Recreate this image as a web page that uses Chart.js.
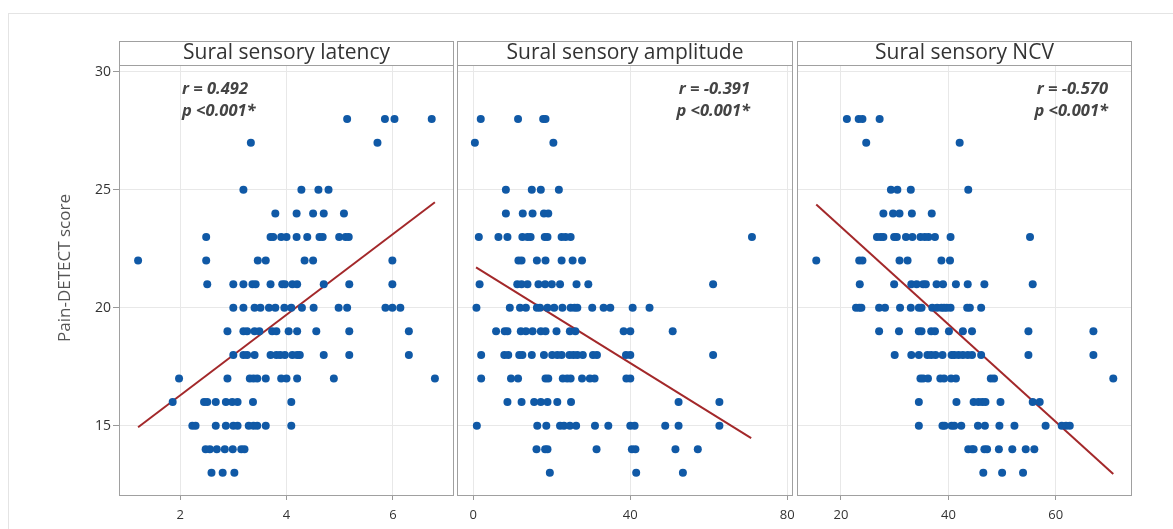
<!DOCTYPE html>
<html>
<head>
<meta charset="utf-8">
<script src="https://cdn.jsdelivr.net/npm/chart.js@4.4.1/dist/chart.umd.min.js"></script>
<style>
  body { margin: 0; background: #fff; width: 1173px; height: 529px; overflow: hidden; position: relative; }
  #outer { position: absolute; left: 8px; top: 13px; width: 1200px; height: 600px; border: 1px solid #e4e4e4; }
  canvas { position: absolute; top: 41px; }
  #c1 { left: 0px; }
  #c2 { left: 456px; }
  #c3 { left: 796px; }
</style>
</head>
<body>
<div id="outer"></div>
<canvas id="c1" width="454" height="488"></canvas>
<canvas id="c2" width="338" height="488"></canvas>
<canvas id="c3" width="337" height="488"></canvas>
<script>
// Pain-DETECT score of each row of points (top to bottom)
const scores = [28, 27, 25, 24, 23, 22, 21, 20, 19, 18, 17, 16, 15, 14, 13];

// x values per score row, same order as scores
const latency = [
  [5.14, 5.85, 6.03, 6.73],
  [3.33, 5.71],
  [3.19, 4.28, 4.6, 4.79],
  [3.79, 4.19, 4.5, 4.7, 5.08],
  [2.49, 3.7, 3.75, 3.9, 4.0, 4.19, 4.39, 4.62, 4.68, 4.99, 5.11, 5.17],
  [1.21, 2.49, 3.46, 3.61, 4.34, 4.5, 5.99],
  [2.51, 3.0, 3.19, 3.36, 3.42, 3.7, 3.92, 3.97, 4.11, 4.2, 4.7, 5.18, 5.99],
  [3.0, 3.19, 3.4, 3.51, 3.67, 3.79, 3.96, 4.09, 4.29, 4.51, 4.98, 5.14, 5.86, 5.99, 6.14],
  [2.89, 3.19, 3.26, 3.4, 3.49, 3.73, 3.81, 4.04, 4.2, 4.56, 5.18, 6.3],
  [3.0, 3.19, 3.26, 3.4, 3.7, 3.81, 3.88, 3.97, 4.11, 4.2, 4.25, 4.7, 5.18, 6.3],
  [1.98, 2.89, 3.31, 3.38, 3.45, 3.61, 3.9, 4.0, 4.2, 4.89, 6.79],
  [1.86, 2.45, 2.51, 2.67, 2.86, 2.98, 3.08, 3.37, 4.09],
  [2.23, 2.29, 2.67, 2.86, 3.0, 3.08, 3.29, 3.38, 3.45, 3.61, 4.09],
  [2.48, 2.56, 2.69, 2.84, 2.99, 3.15, 3.21],
  [2.59, 2.8, 3.02]
];

const amplitude = [
  [1.9, 11.4, 17.8, 18.4],
  [0.4, 20.4],
  [8.3, 14.9, 17.2, 21.8],
  [8.3, 12.6, 15.1, 18.0, 19.1],
  [1.4, 6.4, 8.7, 12.5, 13.8, 14.6, 18.2, 18.9, 22.5, 23.5, 24.8, 71.0],
  [11.5, 12.3, 16.2, 18.4, 22.5, 25.3, 27.7],
  [1.6, 11.2, 12.3, 13.8, 16.6, 18.3, 20.0, 22.1, 26.3, 29.3, 61.1],
  [0.8, 9.3, 11.9, 13.4, 16.2, 17.0, 18.9, 20.6, 22.7, 24.8, 25.8, 26.5, 30.3, 33.2, 34.9, 40.6, 44.9],
  [5.8, 8.0, 8.7, 12.1, 13.4, 15.1, 17.2, 18.4, 21.2, 24.6, 26.0, 38.3, 40.0, 50.8],
  [2.0, 7.9, 8.9, 11.7, 12.5, 14.9, 18.0, 20.1, 21.4, 22.5, 24.5, 25.5, 26.5, 27.9, 30.5, 31.5, 38.9, 40.0, 61.1],
  [2.0, 9.6, 11.4, 18.4, 19.1, 22.8, 23.9, 24.8, 27.7, 29.7, 30.9, 39.0, 40.0],
  [8.7, 12.3, 15.5, 17.2, 18.9, 21.4, 24.9, 52.3, 62.7],
  [0.9, 16.3, 18.6, 22.1, 23.1, 24.6, 26.2, 31.0, 34.4, 40.0, 41.1, 48.9, 52.3, 62.7],
  [16.1, 18.3, 18.9, 31.4, 40.4, 41.3, 51.5, 57.2],
  [19.5, 41.5, 53.4]
];

const ncv = [
  [21.1, 23.3, 24.0, 27.2],
  [24.7, 42.1],
  [29.3, 30.5, 33.0, 43.7],
  [27.9, 29.7, 30.9, 33.2, 36.9],
  [26.7, 27.4, 27.9, 29.9, 30.4, 32.1, 33.3, 34.8, 35.6, 36.3, 37.5, 40.4, 55.2],
  [15.4, 23.4, 24.0, 30.9, 32.4, 38.7, 40.3],
  [23.5, 29.9, 33.1, 34.1, 35.3, 35.8, 37.8, 39.0, 41.4, 43.6, 46.7, 55.7],
  [22.8, 23.4, 23.8, 27.1, 28.2, 31.0, 33.0, 34.5, 35.0, 37.0, 37.9, 38.7, 39.2, 39.7, 40.4, 43.5, 44.0, 46.1],
  [27.1, 30.8, 34.5, 35.0, 36.8, 37.5, 40.1, 42.7, 44.4, 54.9, 67.0],
  [30.0, 33.1, 34.5, 36.1, 36.8, 37.6, 38.9, 40.6, 41.1, 41.9, 42.7, 43.6, 44.4, 46.1, 54.9, 67.0],
  [34.8, 35.3, 36.2, 38.5, 39.2, 40.5, 41.4, 47.9, 48.5, 70.7],
  [34.5, 41.5, 44.7, 45.6, 46.3, 46.9, 49.7, 55.7, 57.0],
  [34.5, 38.9, 39.3, 40.6, 41.1, 42.4, 45.5, 46.8, 49.5, 52.3, 58.1, 61.1, 61.9, 62.6],
  [43.7, 44.4, 44.7, 46.7, 47.2, 49.4, 51.9, 54.4, 56.0],
  [46.5, 50.0, 53.9]
];

// fitted line end points [x, y]
const latencyFit = [[1.21, 14.93], [6.79, 24.47]];
const amplitudeFit = [[0.7, 21.71], [70.8, 14.47]];
const ncvFit = [[15.4, 24.38], [70.7, 12.95]];

const yTicks = [15, 20, 25, 30];
const latencyTicks = [2, 4, 6];
const amplitudeTicks = [0, 40, 80];
const ncvTicks = [20, 40, 60];

const latencyStats = ["r = 0.492", "p <0.001*"];
const amplitudeStats = ["r = -0.391", "p <0.001*"];
const ncvStats = ["r = -0.570", "p <0.001*"];

const FONT = "'Open Sans', 'Noto Sans', sans-serif";
const HEADER = 25;

function toPoints(rows) {
  const pts = [];
  rows.forEach((xs, i) => xs.forEach(x => pts.push({ x: x, y: scores[i] })));
  return pts;
}

const panelPlugin = {
  id: "panel",
  afterDraw(chart, args, opts) {
    const ctx = chart.ctx;
    const ca = chart.chartArea;
    const top = ca.top - HEADER;
    ctx.save();
    ctx.strokeStyle = "#a0a0a0";
    ctx.lineWidth = 1;
    ctx.strokeRect(ca.left - 0.5, top + 0.5, ca.width + 1, ca.bottom - top);
    ctx.beginPath();
    ctx.moveTo(ca.left - 0.5, ca.top - 0.5);
    ctx.lineTo(ca.right + 0.5, ca.top - 0.5);
    ctx.stroke();
    ctx.fillStyle = "#333";
    ctx.font = "21px " + FONT;
    ctx.textAlign = "center";
    ctx.textBaseline = "middle";
    ctx.fillText(opts.title, (ca.left + ca.right) / 2, top + HEADER / 2);

    ctx.fillStyle = "#444";
    ctx.font = "italic bold 16.5px " + FONT;
    ctx.textAlign = opts.statsAlign;
    const sx = opts.statsAlign === "left" ? ca.left + opts.statsOffset : ca.right - opts.statsOffset;
    ctx.fillText(opts.stats[0], sx, ca.top + 23);
    ctx.fillText(opts.stats[1], sx, ca.top + 45);

    if (opts.yTitle) {
      ctx.fillStyle = "#555";
      ctx.font = "17px " + FONT;
      ctx.textAlign = "center";
      ctx.translate(65, 268 - 41);
      ctx.rotate(-Math.PI / 2);
      ctx.fillText(opts.yTitle, 0, 0);
    }
    ctx.restore();
  }
};

function makePanel(id, cfg) {
  const first = cfg.yAxisWidth > 10;
  return new Chart(document.getElementById(id), {
    type: "scatter",
    data: {
      datasets: [
        {
          data: toPoints(cfg.rows),
          backgroundColor: "#1059a6",
          borderWidth: 0,
          pointRadius: 4,
          pointHoverRadius: 4
        },
        {
          data: cfg.fit.map(p => ({ x: p[0], y: p[1] })),
          showLine: true,
          borderColor: "#a3282a",
          borderWidth: 2,
          pointRadius: 0
        }
      ]
    },
    options: {
      responsive: false,
      animation: false,
      devicePixelRatio: 1,
      layout: {
        autoPadding: false,
        padding: { top: HEADER, right: cfg.padRight, left: 0, bottom: 0 }
      },
      plugins: {
        legend: { display: false },
        tooltip: { enabled: false },
        panel: {
          title: cfg.title,
          stats: cfg.stats,
          statsAlign: cfg.statsAlign,
          statsOffset: cfg.statsOffset,
          yTitle: first ? "Pain-DETECT score" : null
        }
      },
      scales: {
        x: {
          type: "linear",
          min: cfg.xMin,
          max: cfg.xMax,
          afterBuildTicks: s => { s.ticks = cfg.xTicks.map(v => ({ value: v })); },
          afterFit: s => { s.height = 34; s.paddingLeft = 0; s.paddingRight = 0; },
          grid: { color: "#e8e8e8", tickColor: "#999", tickLength: 5 },
          border: { display: false },
          ticks: { color: "#333", font: { family: FONT, size: 13 }, padding: 7 }
        },
        y: {
          type: "linear",
          min: 12.06,
          max: 30.25,
          afterBuildTicks: s => { s.ticks = yTicks.map(v => ({ value: v })); },
          afterFit: s => { s.width = cfg.yAxisWidth; s.paddingTop = 0; s.paddingBottom = 0; },
          grid: { color: "#e8e8e8", tickColor: "#999", tickLength: 7, drawTicks: first },
          border: { display: false },
          ticks: { display: first, color: "#333", font: { family: FONT, size: 14 }, padding: 2 }
        }
      }
    },
    plugins: [panelPlugin]
  });
}

makePanel("c1", {
  title: "Sural sensory latency", rows: latency, fit: latencyFit, xTicks: latencyTicks,
  xMin: 0.87, xMax: 7.13, stats: latencyStats, statsAlign: "left", statsOffset: 62,
  yAxisWidth: 120, padRight: 1
});
makePanel("c2", {
  title: "Sural sensory amplitude", rows: amplitude, fit: amplitudeFit, xTicks: amplitudeTicks,
  xMin: -3.9, xMax: 81.2, stats: amplitudeStats, statsAlign: "right", statsOffset: 42,
  yAxisWidth: 2, padRight: 2
});
makePanel("c3", {
  title: "Sural sensory NCV", rows: ncv, fit: ncvFit, xTicks: ncvTicks,
  xMin: 12.0, xMax: 74.0, stats: ncvStats, statsAlign: "right", statsOffset: 23,
  yAxisWidth: 2, padRight: 2
});
</script>
</body>
</html>
